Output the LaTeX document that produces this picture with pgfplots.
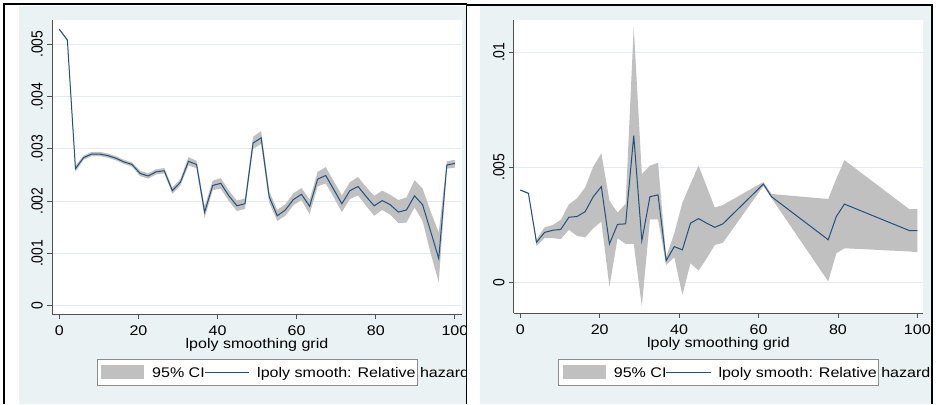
\documentclass[border=0pt]{standalone}
\usepackage{fontspec}
\setmainfont{Liberation Sans}[FakeStretch=1.15]
\newfontfamily\uprightsans{Liberation Sans}
\usepackage{pgfplots}
\pgfplotsset{compat=1.18}
\usepackage{pgfplotstable}

\definecolor{stbg}{RGB}{234,242,243}
\definecolor{stgrid}{RGB}{226,236,239}
\definecolor{stci}{RGB}{192,192,192}
\definecolor{stline}{RGB}{36,80,122}
\definecolor{staxis}{RGB}{80,80,80}
\definecolor{stlegend}{RGB}{140,140,140}

\newcommand{\lab}{\fontsize{14}{16}\selectfont}

% lpoly estimates of the relative hazard with 95% confidence limits
\pgfplotstableread{
x y lo hi
0.00 5.285e-3 5.27e-3 5.30e-3
2.04 5.08e-3 5.06e-3 5.10e-3
4.08 2.62e-3 2.56e-3 2.67e-3
6.12 2.83e-3 2.79e-3 2.87e-3
8.16 2.90e-3 2.86e-3 2.94e-3
10.20 2.90e-3 2.86e-3 2.94e-3
12.24 2.87e-3 2.83e-3 2.91e-3
14.29 2.82e-3 2.78e-3 2.86e-3
16.33 2.75e-3 2.71e-3 2.79e-3
18.37 2.70e-3 2.66e-3 2.74e-3
20.41 2.53e-3 2.48e-3 2.58e-3
22.45 2.48e-3 2.43e-3 2.53e-3
24.49 2.56e-3 2.51e-3 2.61e-3
26.53 2.58e-3 2.53e-3 2.63e-3
28.57 2.20e-3 2.14e-3 2.26e-3
30.61 2.36e-3 2.30e-3 2.42e-3
32.65 2.76e-3 2.68e-3 2.84e-3
34.69 2.70e-3 2.63e-3 2.77e-3
36.73 1.79e-3 1.68e-3 1.90e-3
38.78 2.30e-3 2.21e-3 2.39e-3
40.82 2.34e-3 2.24e-3 2.44e-3
42.86 2.10e-3 2.00e-3 2.20e-3
44.90 1.91e-3 1.81e-3 2.01e-3
46.94 1.95e-3 1.85e-3 2.05e-3
48.98 3.11e-3 3.00e-3 3.23e-3
51.02 3.21e-3 3.09e-3 3.34e-3
53.06 2.08e-3 1.97e-3 2.19e-3
55.10 1.72e-3 1.62e-3 1.83e-3
57.14 1.83e-3 1.72e-3 1.94e-3
59.18 2.03e-3 1.92e-3 2.15e-3
61.22 2.13e-3 2.02e-3 2.25e-3
63.27 1.90e-3 1.75e-3 2.03e-3
65.31 2.42e-3 2.28e-3 2.56e-3
67.35 2.49e-3 2.34e-3 2.65e-3
69.39 2.22e-3 2.07e-3 2.38e-3
71.43 1.95e-3 1.79e-3 2.11e-3
73.47 2.20e-3 2.04e-3 2.36e-3
75.51 2.28e-3 2.11e-3 2.46e-3
77.55 2.09e-3 1.91e-3 2.27e-3
79.59 1.91e-3 1.72e-3 2.10e-3
81.63 2.01e-3 1.83e-3 2.20e-3
83.67 1.93e-3 1.74e-3 2.12e-3
85.71 1.79e-3 1.58e-3 2.02e-3
87.76 1.83e-3 1.59e-3 2.07e-3
89.80 2.10e-3 1.88e-3 2.40e-3
91.84 1.93e-3 1.62e-3 2.24e-3
93.88 1.42e-3 1.00e-3 1.80e-3
95.92 0.90e-3 0.45e-3 1.40e-3
97.96 2.69e-3 2.62e-3 2.76e-3
100.00 2.72e-3 2.64e-3 2.79e-3
}\lefttab

\pgfplotstableread{
x y lo hi
0.00 4.01e-3 3.99e-3 4.03e-3
2.04 3.87e-3 3.84e-3 3.90e-3
4.08 1.74e-3 1.58e-3 1.86e-3
6.12 2.17e-3 1.92e-3 2.39e-3
8.16 2.26e-3 1.92e-3 2.49e-3
10.20 2.30e-3 1.88e-3 2.71e-3
12.24 2.83e-3 2.28e-3 3.39e-3
14.29 2.86e-3 2.02e-3 3.65e-3
16.33 3.07e-3 1.95e-3 4.12e-3
18.37 3.72e-3 2.35e-3 5.03e-3
20.41 4.16e-3 2.64e-3 5.60e-3
22.45 1.67e-3 -0.19e-3 3.55e-3
24.49 2.52e-3 1.91e-3 3.03e-3
26.53 2.54e-3 1.67e-3 3.41e-3
28.57 6.38e-3 1.67e-3 11.09e-3
30.61 1.81e-3 -1.03e-3 4.70e-3
32.65 3.72e-3 2.74e-3 5.07e-3
34.69 3.80e-3 2.74e-3 5.20e-3
36.73 0.94e-3 0.75e-3 1.09e-3
38.78 1.55e-3 1.09e-3 2.13e-3
40.82 1.41e-3 -0.55e-3 3.46e-3
42.86 2.57e-3 0.83e-3 4.28e-3
44.90 2.77e-3 0.51e-3 5.07e-3
46.94 2.57e-3 1.04e-3 4.16e-3
48.98 2.39e-3 1.62e-3 3.25e-3
51.02 2.54e-3 1.72e-3 3.36e-3
61.22 4.27e-3 4.19e-3 4.36e-3
63.27 3.72e-3 3.66e-3 3.84e-3
77.55 1.85e-3 0.04e-3 3.62e-3
79.59 2.86e-3 1.26e-3 4.50e-3
81.63 3.40e-3 1.48e-3 5.31e-3
97.96 2.25e-3 1.34e-3 3.18e-3
100.00 2.25e-3 1.31e-3 3.18e-3
}\righttab

\tikzset{hazline/.style={stline, line width=1bp}}

\pgfplotsset{
  statapanel/.style={
    scale only axis,
    axis x line*=bottom, axis y line*=left,
    axis line style={staxis, line width=0.8bp},
    tick style={staxis, line width=0.8bp},
    tick align=outside, major tick length=5bp,
    xtick={0,20,...,100},
    ymajorgrids, grid style={stgrid, line width=0.9bp},
    axis background/.style={fill=white},
    scaled y ticks=false,
    /pgf/number format/assume math mode=true,
    xticklabel style={font=\lab, inner sep=0pt, anchor=north, yshift=-6.5bp},
    yticklabel style={font=\uprightsans\lab, inner sep=0pt, xshift=-4bp, rotate=90, yscale=1.15, anchor=south},
    xlabel={lpoly smoothing grid},
    xlabel style={font=\lab, at={(axis description cs:0.5,0)}, anchor=center, yshift=-30.5bp},
  },
  % the confidence band: lower limit, then the width of the band stacked on it
  cibase/.style={draw=none, stack plots=y, forget plot},
  ciband/.style={fill=stci, draw=none, stack plots=y},
}

\begin{document}
\begin{tikzpicture}[x=1bp, y=1bp]
% graph regions
\fill[white] (0,0) rectangle (936,404);
\fill[stbg] (19,0) rectangle (466,398);
\fill[stbg] (480,0) rectangle (931,398);

% left panel
\begin{scope}
\clip (0,0) rectangle (466,404);
\begin{axis}[statapanel,
  at={(52bp,90bp)}, anchor=south west,
  width=410bp, height=294bp,
  xmin=-1.85, xmax=101.8,
  ymin=-0.159e-3, ymax=5.463e-3,
  ytick={0,0.001,0.002,0.003,0.004,0.005},
  yticklabels={0,.001,.002,.003,.004,.005}]
\addplot[cibase] table[x=x, y=lo] {\lefttab};
\addplot[ciband] table[x=x, y expr=\thisrow{hi}-\thisrow{lo}] {\lefttab} \closedcycle;
\addplot[hazline] table[x=x, y=y] {\lefttab};
\end{axis}
% legend
\filldraw[fill=white, draw=stlegend, line width=0.8bp] (97,19) rectangle (417,45);
\fill[stci] (101,25) rectangle (144,39);
\node[font=\lab, inner sep=0pt, anchor=base west] at (152,27) {95\% CI};
\draw[hazline] (205,32) -- (249,32);
\node[font=\lab, inner sep=0pt, anchor=base west] at (257,27) {lpoly smooth: Relative hazard};
\end{scope}

% right panel
\begin{scope}
\clip (467,0) rectangle (931,404);
\begin{axis}[statapanel,
  at={(513.7bp,91bp)}, anchor=south west,
  width=409.6bp, height=293bp,
  xmin=-1.66, xmax=101.5,
  ymin=-1.335e-3, ymax=11.404e-3,
  ytick={0,0.005,0.01},
  yticklabels={0,.005,.01}]
\addplot[cibase] table[x=x, y=lo] {\righttab};
\addplot[ciband] table[x=x, y expr=\thisrow{hi}-\thisrow{lo}] {\righttab} \closedcycle;
\addplot[hazline] table[x=x, y=y] {\righttab};
\end{axis}
% legend
\filldraw[fill=white, draw=stlegend, line width=0.8bp] (558.3,18.3) rectangle (878.7,45);
\fill[stci] (562.7,25) rectangle (606,39);
\node[font=\lab, inner sep=0pt, anchor=base west] at (613.7,27) {95\% CI};
\draw[hazline] (666,32) -- (711,32);
\node[font=\lab, inner sep=0pt, anchor=base west] at (718.3,27) {lpoly smooth: Relative hazard};
\end{scope}

% frame lines
\draw[black, line width=1.7bp] (4,0) -- (4,400.3) -- (466.6,400.3);
\draw[black, line width=1.7bp] (466.6,0) -- (466.6,400.3);
\draw[black, line width=1.7bp] (466.6,398.8) -- (931.7,398.8) -- (931.7,0);

\pgfresetboundingbox
\useasboundingbox (0,0) rectangle (936,404);
\end{tikzpicture}
\end{document}
